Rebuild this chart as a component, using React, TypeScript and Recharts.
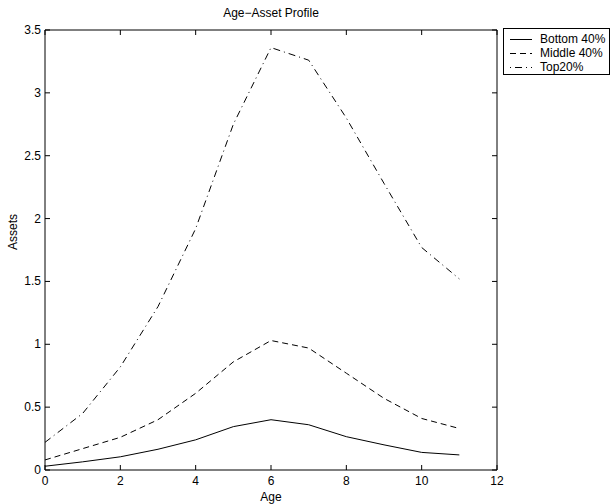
import { Line, LineChart, XAxis, YAxis } from 'recharts';

const ages = [0, 1, 2, 3, 4, 5, 6, 7, 8, 9, 10, 11];
const bottom40 = [0.03, 0.065, 0.105, 0.165, 0.24, 0.345, 0.4, 0.36, 0.265, 0.2, 0.14, 0.12];
const middle40 = [0.08, 0.17, 0.26, 0.4, 0.61, 0.86, 1.03, 0.97, 0.77, 0.57, 0.41, 0.33];
const top20 = [0.22, 0.45, 0.82, 1.3, 1.92, 2.75, 3.36, 3.26, 2.8, 2.28, 1.77, 1.52];
const xTicks = [0, 2, 4, 6, 8, 10, 12];
const yTicks = [0, 0.5, 1, 1.5, 2, 2.5, 3, 3.5];

const data = ages.map((age, i) => ({
  age,
  bottom: bottom40[i],
  middle: middle40[i],
  top: top20[i],
}));

const font = '"Liberation Sans", Arial, Helvetica, sans-serif';
const FS = 12;
const TICK = 5;

function BottomTick({ x, y, payload }: any) {
  return (
    <g>
      <line x1={x} y1={y} x2={x} y2={y - TICK} stroke="#000" />
      <text x={x} y={y + 15} textAnchor="middle" fontSize={FS} fontFamily={font} fill="#000">
        {payload.value}
      </text>
    </g>
  );
}

function LeftTick({ x, y, payload }: any) {
  return (
    <g>
      <line x1={x} y1={y} x2={x + TICK} y2={y} stroke="#000" />
      <text x={x - 4} y={y + 4} textAnchor="end" fontSize={FS} fontFamily={font} fill="#000">
        {payload.value}
      </text>
    </g>
  );
}

// the top and right axes only carry inward ticks, like a boxed matlab plot
function TopTick({ x, y }: any) {
  return <line x1={x} y1={y} x2={x} y2={y + TICK} stroke="#000" />;
}

function RightTick({ x, y }: any) {
  return <line x1={x} y1={y} x2={x - TICK} y2={y} stroke="#000" />;
}

const legendItems = [
  { label: 'Bottom 40%', dash: undefined },
  { label: 'Middle 40%', dash: '6 4' },
  { label: 'Top20%', dash: '1 4 7 4' },
];

function LegendBox() {
  return (
    <div
      style={{
        position: 'absolute',
        left: 503,
        top: 28,
        border: '1px solid #000',
        background: '#fff',
        width: 107,
        height: 47,
        boxSizing: 'border-box',
        fontFamily: font,
        fontSize: FS,
        paddingTop: 3,
      }}
    >
      {legendItems.map((item) => (
        <div key={item.label} style={{ display: 'flex', alignItems: 'center', height: 14, lineHeight: '14px' }}>
          <svg width={36} height={14} style={{ flex: 'none' }}>
            <line x1={6} y1={7.5} x2={28} y2={7.5} stroke="#000" strokeWidth={1} strokeDasharray={item.dash} />
          </svg>
          <span>{item.label}</span>
        </div>
      ))}
    </div>
  );
}

export default function App() {
  return (
    <div style={{ position: 'absolute', left: 0, top: 0, width: 611, height: 504, background: '#fff' }}>
      <div
        style={{
          position: 'absolute',
          left: 45,
          width: 452,
          top: 5,
          textAlign: 'center',
          fontFamily: font,
          fontSize: FS,
          lineHeight: '16px',
        }}
      >
        Age−Asset Profile
      </div>
      <LineChart width={611} height={504} data={data} margin={{ top: 29, right: 113, left: 0, bottom: 0 }}>
        <XAxis
          dataKey="age"
          type="number"
          domain={[0, 12]}
          ticks={xTicks}
          height={34}
          tickSize={0}
          tickMargin={0}
          tickLine={false}
          axisLine={{ stroke: '#000' }}
          tick={BottomTick}
          label={{ value: 'Age', position: 'insideBottom', offset: 3, fontSize: FS, fontFamily: font, fill: '#000' }}
        />
        <XAxis
          xAxisId="top"
          dataKey="age"
          orientation="top"
          type="number"
          domain={[0, 12]}
          ticks={xTicks}
          height={1}
          tickSize={0}
          tickMargin={0}
          tickLine={false}
          axisLine={{ stroke: '#000' }}
          tick={TopTick}
        />
        <YAxis
          type="number"
          domain={[0, 3.5]}
          ticks={yTicks}
          width={45}
          tickSize={0}
          tickMargin={0}
          tickLine={false}
          axisLine={{ stroke: '#000' }}
          tick={LeftTick}
          label={{ value: 'Assets', angle: -90, position: 'insideLeft', offset: 13, fontSize: FS, fontFamily: font, fill: '#000' }}
        />
        <YAxis
          yAxisId="right"
          orientation="right"
          type="number"
          domain={[0, 3.5]}
          ticks={yTicks}
          width={1}
          tickSize={0}
          tickMargin={0}
          tickLine={false}
          axisLine={{ stroke: '#000' }}
          tick={RightTick}
        />
        <Line dataKey="bottom" name="Bottom 40%" stroke="#000" strokeWidth={1} dot={false} isAnimationActive={false} />
        <Line dataKey="middle" name="Middle 40%" stroke="#000" strokeWidth={1} strokeDasharray="6 4" dot={false} isAnimationActive={false} />
        <Line dataKey="top" name="Top20%" stroke="#000" strokeWidth={1} strokeDasharray="7 4 1 4" dot={false} isAnimationActive={false} />
        <Line
          dataKey="top"
          xAxisId="top"
          yAxisId="right"
          stroke="none"
          dot={false}
          activeDot={false}
          legendType="none"
          isAnimationActive={false}
        />
      </LineChart>
      <LegendBox />
    </div>
  );
}
